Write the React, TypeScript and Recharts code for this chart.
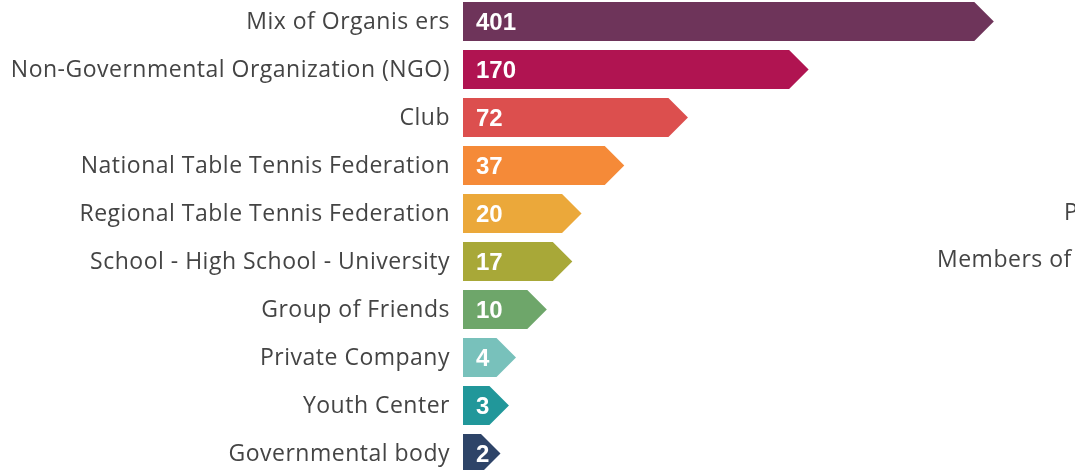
import { BarChart, Bar, XAxis, YAxis, Cell, LabelList } from 'recharts'

const categories = [
  'Mix of Organis ers',
  'Non-Governmental Organization (NGO)',
  'Club',
  'National Table Tennis Federation',
  'Regional Table Tennis Federation',
  'School - High School - University',
  'Group of Friends',
  'Private Company',
  'Youth Center',
  'Governmental body',
]
const counts = [401, 170, 72, 37, 20, 17, 10, 4, 3, 2]
const colors = [
  '#6e345a',
  '#b01451',
  '#dc4f4e',
  '#f58a38',
  '#eba83a',
  '#a8a838',
  '#6ea66a',
  '#78c1bb',
  '#21979a',
  '#2e4468',
]
// labels of the next panel, cut off at the right edge
const sideLabels = ['P', 'Members of']

const data = categories.map((name, i) => ({ name, value: counts[i] }))

function Arrow(props: any) {
  const { x, y, width, height, fill } = props
  const tip = height / 2
  const body = Math.max(width - tip, 0)
  const pts = [
    [x, y],
    [x + body, y],
    [x + body + tip, y + height / 2],
    [x + body, y + height],
    [x, y + height],
  ]
  return <polygon points={pts.map((p) => p.join(',')).join(' ')} fill={fill} />
}

function ValueLabel(props: any) {
  const { x, y, height, value } = props
  return (
    <text
      x={x + 13}
      y={y + height / 2}
      dy="0.36em"
      fill="#fff"
      fontFamily="'Liberation Sans', Arial, sans-serif"
      fontWeight="bold"
      fontSize={24}
    >
      {value}
    </text>
  )
}

const labelFont = { fontSize: 23, fontFamily: "'Open Sans', sans-serif", letterSpacing: 0.5 }

export default function App() {
  return (
    <div style={{ position: 'fixed', top: -3, left: 0, width: 1075, height: 480 }}>
      <BarChart
        width={1075}
        height={480}
        data={data}
        layout="vertical"
        margin={{ top: 0, right: 0, bottom: 0, left: 0 }}
        barSize={39}
      >
        <XAxis type="number" scale="sqrt" domain={[0, 533]} hide />
        <YAxis
          type="category"
          dataKey="name"
          width={463}
          axisLine={false}
          tickLine={false}
          tickSize={0}
          tickMargin={13}
          interval={0}
          tick={{ fill: '#444', ...labelFont }}
        />
        <Bar dataKey="value" shape={<Arrow />} isAnimationActive={false}>
          {data.map((d, i) => (
            <Cell key={d.name} fill={colors[i]} />
          ))}
          <LabelList dataKey="value" content={<ValueLabel />} />
        </Bar>
      </BarChart>
      <svg
        width={1075}
        height={480}
        style={{ position: 'absolute', top: 0, left: 0, pointerEvents: 'none' }}
        fill="#444"
        {...labelFont}
      >
        <text x={1064} y={215} dy="0.36em">{sideLabels[0]}</text>
        <text x={937} y={262} dy="0.36em">{sideLabels[1]}</text>
      </svg>
    </div>
  )
}
